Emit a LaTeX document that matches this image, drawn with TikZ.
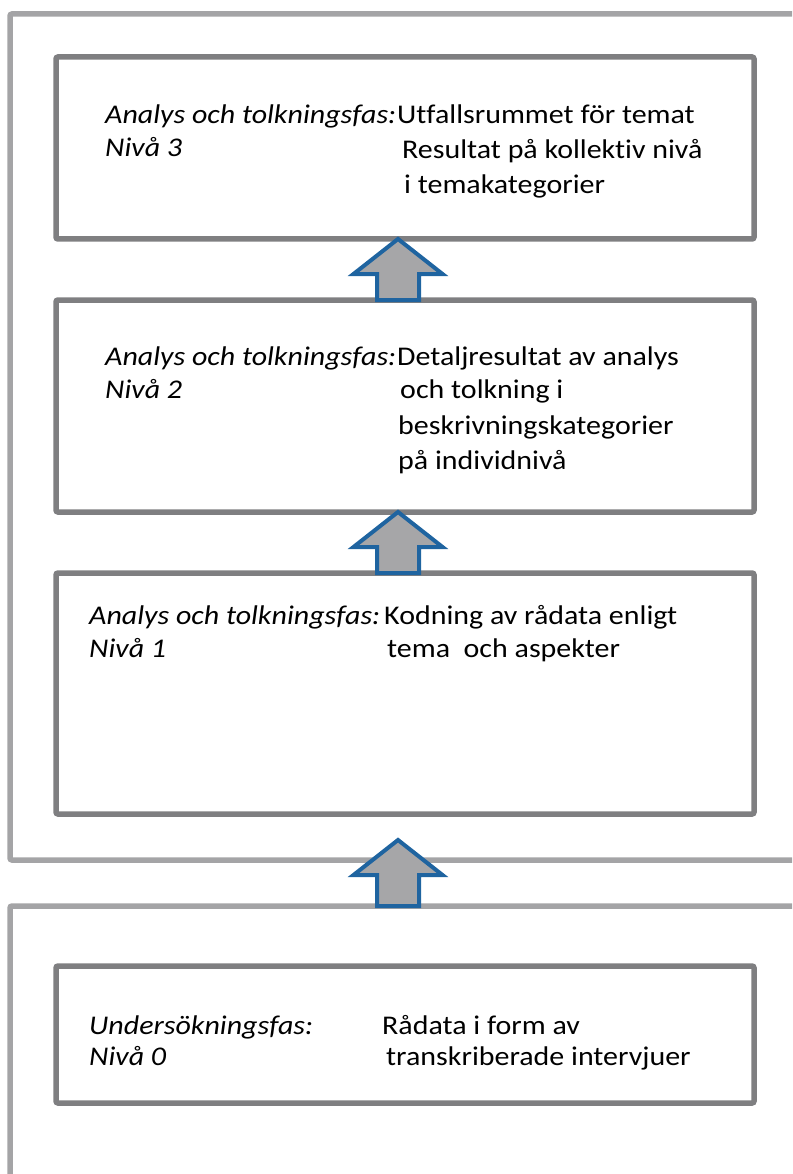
\documentclass[tikz,border=0pt]{standalone}
\usepackage{fontspec}
\setmainfont{Carlito}[FakeStretch=1.11, Ligatures=CommonOff]
\usetikzlibrary{calc}

\definecolor{framegray}{HTML}{A4A4A6}
\definecolor{boxgray}{HTML}{7F7F81}
\definecolor{arrowblue}{HTML}{1F64A0}
\definecolor{arrowfill}{HTML}{A6A6A8}

\tikzset{
  frame/.style={draw=framegray, line width=5.5pt, rounded corners=2pt,
    rectangle, inner sep=0pt, outer sep=0pt},
  levelbox/.style={draw=boxgray, line width=5.5pt, rounded corners=2pt,
    rectangle, inner sep=0pt, outer sep=0pt, minimum width=698pt},
  blockarrow/.style={draw=arrowblue, fill=arrowfill, line width=4pt, line join=miter},
  phase/.style={anchor=base west, inner sep=0pt, font=\fontsize{27}{32}\selectfont\itshape},
  result/.style={anchor=base west, inner sep=0pt, font=\fontsize{27}{32}\selectfont},
}

% upward block arrow: base centred on #1, tip at the height of #2
\newcommand{\blockup}[2]{%
  \draw[blockarrow] let \p1=(#1), \p2=(#2) in
    (\x1-21pt,\y1) -- (\x1-21pt,\y2-35pt) -- (\x1-44.5pt,\y2-35pt) --
    (\x1,\y2) -- (\x1+44.5pt,\y2-35pt) -- (\x1+21pt,\y2-35pt) --
    (\x1+21pt,\y1) -- cycle;}

\begin{document}
\begin{tikzpicture}[x=1pt, y=-1pt]
  \useasboundingbox (0,0) rectangle (792,1174);
  \clip (0,0) rectangle (792,1174);

  % two outer frames: analysis phase and survey phase
  \node[frame, minimum width=820pt, minimum height=846pt] (analysis) at (420,437) {};
  \node[frame, minimum width=820pt, minimum height=330pt] (survey) at (420,1071) {};

  % level boxes
  \node[levelbox, minimum height=182pt] (n3) at (405,148) {};
  \node[levelbox, minimum height=212pt] (n2) at (405,406) {};
  \node[levelbox, minimum height=241pt] (n1) at (405,693.5) {};
  \node[levelbox, minimum height=137pt] (n0) at (405,1034.5) {};

  % level 3
  \node[phase]  (p3a) at (105,124) {Analys och tolkningsfas:};
  \node[phase]  (p3b) at (105,157) {Nivå 3};
  \node[result] (r3a) at (397,124) {Utfallsrummet för temat};
  \node[result] (r3b) at (402,159) {Resultat på kollektiv nivå};
  \node[result] (r3c) at (404,194) {i temakategorier};

  % level 2
  \node[phase]  (p2a) at (105,365) {Analys och tolkningsfas:};
  \node[phase]  (p2b) at (105,398) {Nivå 2};
  \node[result] (r2a) at (397,365) {Detaljresultat av analys};
  \node[result] (r2b) at (400,398) {och tolkning i};
  \node[result] (r2c) at (398,434) {beskrivningskategorier};
  \node[result] (r2d) at (398,469) {på individnivå};

  % level 1
  \node[phase]  (p1a) at (89,624) {Analys och tolkningsfas:};
  \node[phase]  (p1b) at (89,657) {Nivå 1};
  \node[result] (r1a) at (384,624) {Kodning av rådata enligt};
  \node[result] (r1b) at (387,657) {tema\ \ och aspekter};

  % level 0
  \node[phase]  (p0a) at (89,1034) {Undersökningsfas:};
  \node[phase]  (p0b) at (89,1065) {Nivå 0};
  \node[result] (r0a) at (382,1034) {Rådata i form av};
  \node[result] (r0b) at (386,1065) {transkriberade intervjuer};

  % arrows between the levels
  \coordinate (a2base) at ($(n2.north)+(-7,0)$);
  \coordinate (a1base) at ($(n1.north)+(-7,0)$);
  \coordinate (a0base) at ($(survey.north)+(-22,0)$);
  \coordinate (a0tip) at (398,840);
  \blockup{a2base}{n3.south}
  \blockup{a1base}{n2.south}
  \blockup{a0base}{a0tip}
\end{tikzpicture}
\end{document}
